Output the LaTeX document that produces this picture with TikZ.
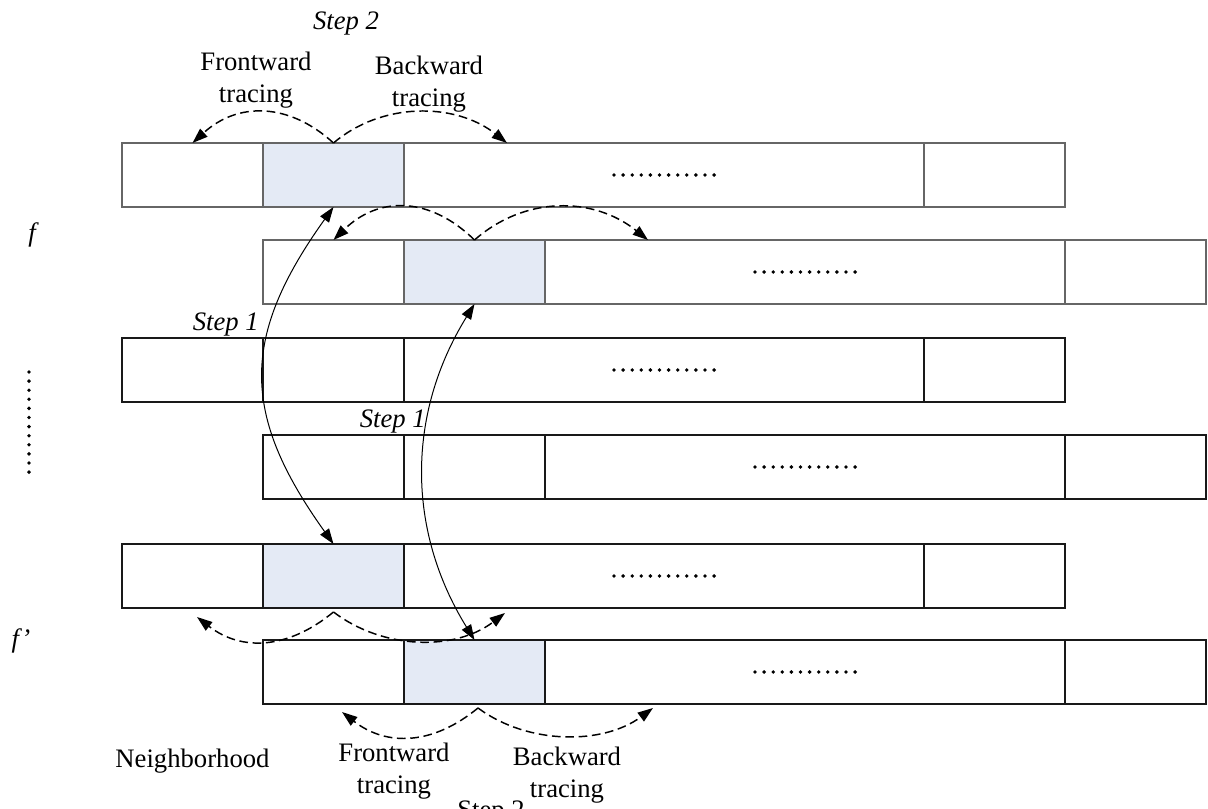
\documentclass[tikz,border=0pt]{standalone}
\usepackage{fontspec}
\setmainfont{Liberation Serif}
\usetikzlibrary{arrows.meta}
\definecolor{hlblue}{RGB}{228,234,245}

% one row of four cells: name, x, y, line style, extra style of the second cell
\newcommand\cellrow[5]{%
  \node[cell,#4] (#1a) at (#2,#3) {};
  \node[cell,#4,#5] (#1b) at (#1a.north east) {};
  \node[wide,#4] (#1c) at (#1b.north east) {};
  \node[cell,#4] (#1d) at (#1c.north east) {};
}
% a row of twelve dots centred in a node
\newcommand\dotline[1]{%
  \foreach \k in {0,...,11}
    \fill ([xshift=\k*6.825pt-37.5pt]#1.center) circle (1.45pt);
}

\begin{document}
\begin{tikzpicture}[x=0.75pt,y=-0.75pt,
  font=\fontsize{20}{24}\selectfont,
  cell/.style={draw=black!90, line width=0.9pt, inner sep=0pt, outer sep=0pt,
    minimum width=105.75pt, minimum height=48pt, anchor=north west},
  wide/.style={cell, minimum width=390pt},
  hl/.style={fill=hlblue},
  soft/.style={draw=black!60},
  trace/.style={dash pattern=on 6.5pt off 3.5pt, line width=1.1pt,
    -{Triangle[length=11.5pt,width=8pt]}},
  hop/.style={line width=0.75pt,
    {Triangle[length=11.5pt,width=8pt]}-{Triangle[length=11.5pt,width=8pt]}},
  lbl/.style={inner sep=0pt, align=center},
  ital/.style={font=\fontsize{20}{24}\selectfont\itshape}
]
\useasboundingbox (0,0) rectangle (1208,809);

% frame rows
\cellrow{r1}{122}{143}{soft}{hl}
\cellrow{r2}{263}{240}{soft}{hl}
\cellrow{r3}{122}{338}{}{}
\cellrow{r4}{263}{435}{}{}
\cellrow{r5}{122}{544}{}{hl}
\cellrow{r6}{263}{640}{}{hl}

\dotline{r1c}
\dotline{r2c}
\dotline{r3c}
\dotline{r4c}
\dotline{r5c}
\dotline{r6c}

% vertical ellipsis on the left
\foreach \k in {0,...,11} \fill (29,372+\k*9.1) circle (1.45pt);

% tracing arcs above the upper rows
\coordinate (t1r) at (507,143);
\draw[trace] (r1b.north) .. controls +(-45,-41) and +(45,-41) .. (r1a.north);
\draw[trace] (r1b.north) .. controls +(48,-41) and +(-52,-41) .. (t1r);
\coordinate (t2r) at (648,240);
\draw[trace] (r2b.north) .. controls +(-45,-44) and +(45,-44) .. (r2a.north);
\draw[trace] (r2b.north) .. controls +(50,-44) and +(-55,-44) .. (t2r);

% tracing arcs below the lower rows
\coordinate (c5) at (333.5,612);
\coordinate (t5l) at (197,617);
\coordinate (t5r) at (505,613);
\draw[trace] (c5) .. controls +(-45,37) and +(45,35) .. (t5l);
\draw[trace] (c5) .. controls +(50,38) and +(-50,38) .. (t5r);
\coordinate (c6) at (478,708);
\coordinate (t6l) at (342,712);
\coordinate (t6r) at (653,708);
\draw[trace] (c6) .. controls +(-45,37) and +(45,35) .. (t6l);
\draw[trace] (c6) .. controls +(50,37) and +(-50,37) .. (t6r);

% step 1 links between f and f'
\draw[hop] (r1b.south) .. controls +(-93,130) and +(-93,-130) .. (r5b.north);
\draw[hop] (r2b.south) .. controls +(-68,110) and +(-68,-110) .. (r6b.north);

% labels
\node[lbl,ital,anchor=base] (s2top) at (346,30) {Step 2};
\node[lbl,anchor=north] (ftop) at (256,52) {Frontward\\tracing};
\node[lbl,anchor=north] (btop) at (429,56) {Backward\\tracing};
\node[lbl,anchor=north] (fbot) at (394,743) {Frontward\\tracing};
\node[lbl,anchor=north] (bbot) at (567,747) {Backward\\tracing};
\node[lbl,anchor=base] (nb) at (192.5,767) {Neighborhood};
\node[lbl,anchor=base west] (s2bot) at (457,818) {Step 2};
\node[lbl,ital,anchor=base east] (s1a) at (259,331) {Step 1};
\node[lbl,ital,anchor=base east] (s1b) at (426,428) {Step 1};
\node[lbl,ital,anchor=base] (f) at (32,242) {f};
\node[lbl,ital,anchor=base] (fp) at (21,647) {f’};
\end{tikzpicture}
\end{document}
